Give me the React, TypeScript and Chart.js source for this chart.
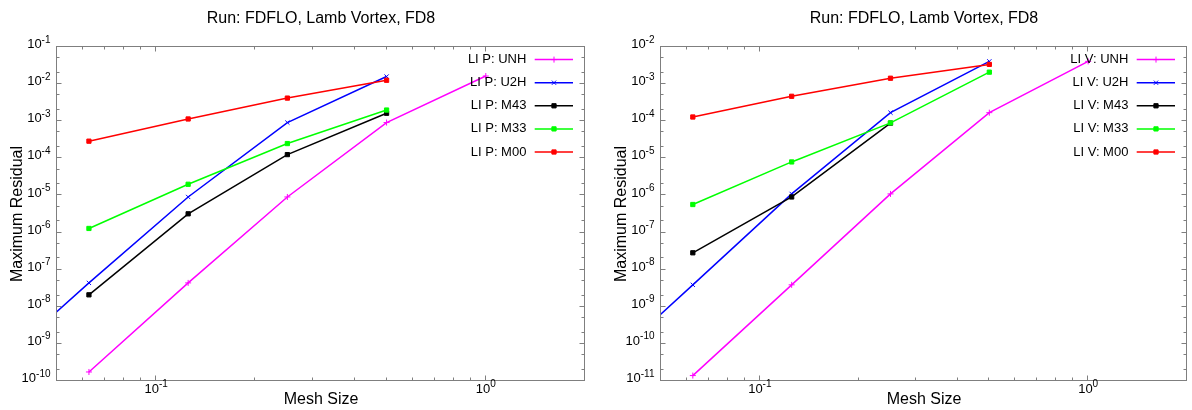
import React, { useEffect, useRef } from 'react';
import { Chart, registerables } from 'chart.js';

Chart.register(...registerables);

// ---------------- data ----------------
const meshFull = [0.0625, 0.125, 0.25, 0.5, 1.0];
const meshHalf = [0.03125, 0.0625, 0.125, 0.25, 0.5];
const meshFour = [0.0625, 0.125, 0.25, 0.5];
const meshThree = [0.0625, 0.125, 0.25];

const namesP = ['LI P: UNH', 'LI P: U2H', 'LI P: M43', 'LI P: M33', 'LI P: M00'];
const namesV = ['LI V: UNH', 'LI V: U2H', 'LI V: M43', 'LI V: M33', 'LI V: M00'];

const pUNH = [1.75e-10, 4.4e-8, 9.1e-6, 9.2e-4, 1.65e-2];
const pU2H = [1.75e-10, 4.4e-8, 9.1e-6, 9.2e-4, 1.6e-2];
const pM43 = [2.1e-8, 3.2e-6, 1.26e-4, 1.64e-3];
const pM33 = [1.29e-6, 2.0e-5, 2.5e-4, 2.0e-3];
const pM00 = [2.9e-4, 1.15e-3, 4.2e-3, 1.27e-2];

const vUNH = [1.4e-11, 3.9e-9, 1.1e-6, 1.7e-4, 4.1e-3];
const vU2H = [1.4e-11, 3.9e-9, 1.1e-6, 1.7e-4, 4.1e-3];
const vM43 = [2.85e-8, 9.1e-7, 8.9e-5];
const vM33 = [5.7e-7, 8.0e-6, 9.0e-5, 2.1e-3];
const vM00 = [1.3e-4, 4.7e-4, 1.44e-3, 3.4e-3];

const xTickExps = [-1, 0];
const yTickExpsP = [-10, -9, -8, -7, -6, -5, -4, -3, -2, -1];
const yTickExpsV = [-11, -10, -9, -8, -7, -6, -5, -4, -3, -2];
const xRange = [0.05, 2];
const yRangeP = [1e-10, 1e-1];
const yRangeV = [1e-11, 1e-2];

const titleText = 'Run: FDFLO, Lamb Vortex, FD8';
const xTitleText = 'Mesh Size';
const yTitleText = 'Maximum Residual';

// ---------------- styles ----------------
const seriesColors = ['#ff00ff', '#0000ff', '#000000', '#00ff00', '#ff0000'];
const seriesPointStyles = ['cross', 'crossRot', 'rect', 'rect', 'rect'];
const seriesPointRadius = [3, 3, 3, 3, 3];
const FONT = '"Liberation Sans", Arial, Helvetica, sans-serif';
const FRAME_COLOR = '#7f7f7f';

function drawMarker(ctx: CanvasRenderingContext2D, style: string, x: number, y: number, r: number, color: string) {
  ctx.save();
  ctx.strokeStyle = color;
  ctx.fillStyle = color;
  ctx.lineWidth = 1;
  ctx.beginPath();
  if (style === 'rect') {
    const s = r * Math.SQRT1_2;
    ctx.rect(x - s, y - s, 2 * s, 2 * s);
    ctx.fill();
    ctx.stroke();
  } else if (style === 'cross') {
    ctx.moveTo(x - r, y);
    ctx.lineTo(x + r, y);
    ctx.moveTo(x, y - r);
    ctx.lineTo(x, y + r);
    ctx.stroke();
  } else {
    const s = r * Math.SQRT1_2;
    ctx.moveTo(x - s, y - s);
    ctx.lineTo(x + s, y + s);
    ctx.moveTo(x - s, y + s);
    ctx.lineTo(x + s, y - s);
    ctx.stroke();
  }
  ctx.restore();
}

function drawPow(ctx: CanvasRenderingContext2D, exp: number, x: number, y: number, align: string, supDy: number) {
  const base = '10';
  const sup = String(exp);
  const baseFont = `13px ${FONT}`;
  const supFont = `10px ${FONT}`;
  ctx.font = baseFont;
  const wb = ctx.measureText(base).width;
  ctx.font = supFont;
  const ws = ctx.measureText(sup).width;
  const total = wb + ws;
  const x0 = align === 'right' ? x - total : x - total / 2;
  ctx.textAlign = 'left';
  ctx.textBaseline = 'middle';
  ctx.fillStyle = '#000';
  ctx.font = baseFont;
  ctx.fillText(base, x0, y);
  ctx.font = supFont;
  ctx.fillText(sup, x0 + wb, y - supDy);
}

const gnuFrame = {
  id: 'gnuFrame',
  afterDraw(chart: any, _args: any, opts: any) {
    const { ctx, chartArea: a } = chart;
    const xs = chart.scales.x;
    const ys = chart.scales.y;
    const L = Math.round(a.left) - 0.5;
    const R = Math.round(a.right) - 0.5;
    const T = Math.round(a.top) - 0.5;
    const B = Math.round(a.bottom) - 0.5;
    ctx.save();
    ctx.strokeStyle = FRAME_COLOR;
    ctx.lineWidth = 1;
    ctx.strokeRect(L, T, R - L, B - T);

    // y ticks
    const [ymin, ymax] = opts.yRange;
    ctx.beginPath();
    for (const e of opts.yExps) {
      for (const m of [1, 2, 5]) {
        const v = m * Math.pow(10, e);
        if (v < ymin * 0.999 || v > ymax * 1.001) continue;
        const y = Math.round(ys.getPixelForValue(v)) - 0.5;
        const len = m === 1 ? 5 : 3;
        ctx.moveTo(L, y);
        ctx.lineTo(L + len, y);
        ctx.moveTo(R, y);
        ctx.lineTo(R - len, y);
      }
    }
    // x ticks
    const [xmin, xmax] = xRange;
    for (const d of [-2, -1, 0]) {
      for (let m = 1; m <= 9; m++) {
        const v = m * Math.pow(10, d);
        if (v < xmin * 0.999 || v > xmax * 1.001) continue;
        const x = Math.round(xs.getPixelForValue(v)) - 0.5;
        const len = m === 1 ? 5 : 3;
        ctx.moveTo(x, B);
        ctx.lineTo(x, B - len);
        ctx.moveTo(x, T);
        ctx.lineTo(x, T + len);
      }
    }
    ctx.stroke();

    // tick labels
    for (const e of opts.yExps) {
      const y = ys.getPixelForValue(Math.pow(10, e));
      drawPow(ctx, e, a.left - 6.5, y - 2.5, 'right', 4.7);
    }
    for (const e of xTickExps) {
      const x = xs.getPixelForValue(Math.pow(10, e));
      drawPow(ctx, e, x, a.bottom + 8, 'center', 4.3);
    }

    // titles
    ctx.fillStyle = '#000';
    ctx.textAlign = 'center';
    ctx.textBaseline = 'middle';
    ctx.font = `16px ${FONT}`;
    ctx.fillText(opts.title, (a.left + a.right) / 2, 19);
    ctx.fillText(opts.xTitle, (a.left + a.right) / 2, a.bottom + 19);
    ctx.save();
    ctx.translate(a.left - 39, (a.top + a.bottom) / 2);
    ctx.rotate(-Math.PI / 2);
    ctx.fillText(opts.yTitle, 0, 0);
    ctx.restore();

    // legend (gnuplot style: text then sample line)
    ctx.font = `13px ${FONT}`;
    ctx.textAlign = 'right';
    chart.data.datasets.forEach((ds: any, i: number) => {
      const y = a.top + 12.6 + i * 23.1;
      ctx.fillStyle = '#000';
      ctx.fillText(ds.label, a.right - 58.6, y);
      ctx.strokeStyle = ds.borderColor;
      ctx.lineWidth = 1.5;
      ctx.beginPath();
      ctx.moveTo(a.right - 50.3, y);
      ctx.lineTo(a.right - 12, y);
      ctx.stroke();
      drawMarker(ctx, ds.pointStyle, a.right - 31, y, ds.pointRadius, ds.borderColor);
    });
    ctx.restore();
  },
};

function makeDatasets(names: string[], xsList: number[][], ysList: number[][]) {
  return names.map((name, i) => ({
    label: name,
    data: xsList[i].map((x, j) => ({ x, y: ysList[i][j] })),
    borderColor: seriesColors[i],
    backgroundColor: seriesColors[i],
    pointBackgroundColor: seriesColors[i],
    pointBorderColor: seriesColors[i],
    borderWidth: 1.5,
    pointStyle: seriesPointStyles[i],
    pointRadius: seriesPointRadius[i],
    pointBorderWidth: 1,
    tension: 0,
    fill: false,
    order: names.length - i,
  }));
}

function GnuChart(props: { names: string[]; xsList: number[][]; ysList: number[][]; yRange: number[]; yExps: number[]; padLeft: number; padRight: number }) {
  const ref = useRef<HTMLCanvasElement | null>(null);
  useEffect(() => {
    if (!ref.current) return;
    const chart = new Chart(ref.current, {
      type: 'line',
      data: { datasets: makeDatasets(props.names, props.xsList, props.ysList) as any },
      options: {
        animation: false,
        responsive: false,
        devicePixelRatio: 1,
        layout: { padding: { left: props.padLeft, right: props.padRight, top: 47, bottom: 29 } },
        scales: {
          x: { type: 'logarithmic', min: xRange[0], max: xRange[1], display: false },
          y: { type: 'logarithmic', min: props.yRange[0], max: props.yRange[1], display: false },
        },
        plugins: {
          legend: { display: false },
          title: { display: false },
          tooltip: { enabled: false },
          gnuFrame: { yRange: props.yRange, yExps: props.yExps, title: titleText, xTitle: xTitleText, yTitle: yTitleText },
        } as any,
      },
      plugins: [gnuFrame as any],
    });
    return () => chart.destroy();
  }, []);
  return <canvas ref={ref} width={596} height={410} style={{ display: 'block', width: 596, height: 410 }} />;
}

export default function App() {
  return (
    <div style={{ position: 'absolute', left: 0, top: 0, width: 1192, height: 410, display: 'flex', background: '#fff' }}>
      <GnuChart
        names={namesP}
        xsList={[meshFull, meshHalf, meshFour, meshFour, meshFour]}
        ysList={[pUNH, pU2H, pM43, pM33, pM00]}
        yRange={yRangeP}
        yExps={yTickExpsP}
        padLeft={57}
        padRight={11}
      />
      <GnuChart
        names={namesV}
        xsList={[meshFull, meshHalf, meshThree, meshFour, meshFour]}
        ysList={[vUNH, vU2H, vM43, vM33, vM00]}
        yRange={yRangeV}
        yExps={yTickExpsV}
        padLeft={65}
        padRight={1}
      />
    </div>
  );
}
